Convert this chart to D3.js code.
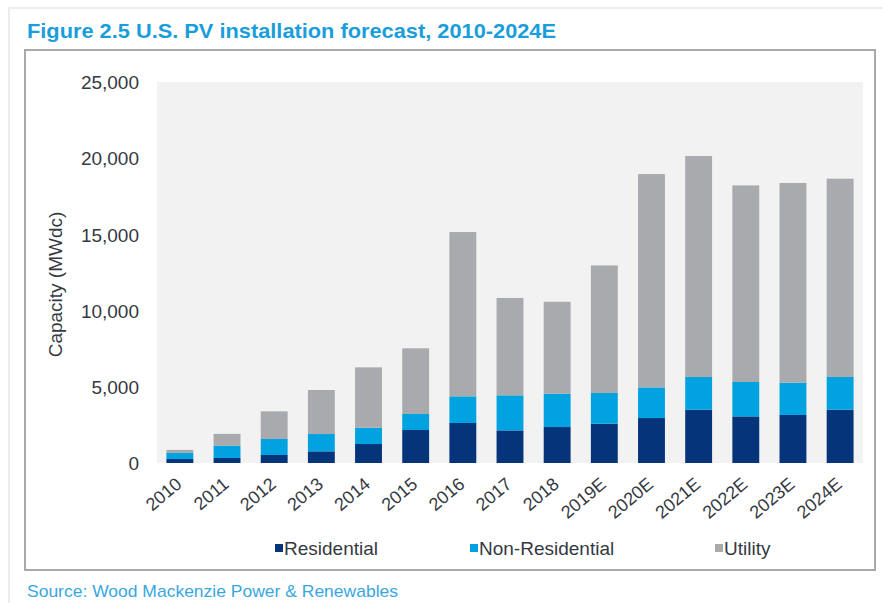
<!DOCTYPE html>
<html><head><meta charset="utf-8">
<script src="https://cdn.jsdelivr.net/npm/d3@7"></script>
<style>html,body{margin:0;padding:0;background:#fff;}svg{display:block;}</style>
</head><body>
<script>
const categories = ["2010","2011","2012","2013","2014","2015","2016","2017","2018","2019E","2020E","2021E","2022E","2023E","2024E"];
const residential    = [260, 330, 525, 765, 1245, 2165, 2625, 2140, 2360, 2580, 2950, 3500, 3060, 3150, 3500];
const nonResidential = [400, 810, 1050, 1135, 1070, 1050, 1750, 2300, 2185, 2015, 2010, 2145, 2255, 2120, 2145];
const utility        = [200, 770, 1815, 2890, 3960, 4310, 10780, 6390, 6035, 8370, 14000, 14500, 12900, 13105, 13010];
const seriesNames = ["Residential","Non-Residential","Utility"];
const seriesColors = ["#06347a","#00a3e0","#a8aaad"];
const yTicks = [0, 5000, 10000, 15000, 20000, 25000];

const W = 883, H = 603;
const svg = d3.select("body").append("svg").attr("width", W).attr("height", H);

// card edge
svg.append("rect").attr("x", 9).attr("y", 8).attr("width", W).attr("height", H)
  .attr("fill", "none").attr("stroke", "#ececec").attr("stroke-width", 2);

// title
svg.append("text").attr("x", 27).attr("y", 38)
  .attr("font-family", "'Liberation Sans Narrow','Liberation Sans',Arial,sans-serif")
  .attr("font-weight", "bold").attr("font-size", 21).attr("fill", "#1a9edb")
  .attr("textLength", 529).attr("lengthAdjust", "spacingAndGlyphs")
  .text("Figure 2.5 U.S. PV installation forecast, 2010-2024E");

// frame
svg.append("rect").attr("x", 25).attr("y", 50).attr("width", 850).attr("height", 520)
  .attr("fill", "#fff").attr("stroke", "#a9a9a9").attr("stroke-width", 2);

const plot = {left: 157, right: 863, top: 82, bottom: 463};
const x = d3.scaleBand().domain(categories).range([plot.left, plot.right]).paddingInner(0.43).paddingOuter(0.2);
const y = d3.scaleLinear().domain([0, 25000]).range([plot.bottom, plot.top]);

svg.append("rect").attr("x", plot.left).attr("y", plot.top)
  .attr("width", plot.right - plot.left).attr("height", plot.bottom - plot.top)
  .attr("fill", "#f2f2f2");

const table = categories.map((c, i) => ({cat: c, "Residential": residential[i], "Non-Residential": nonResidential[i], "Utility": utility[i]}));
const stack = d3.stack().keys(seriesNames)(table);

svg.append("g").selectAll("g").data(stack).join("g")
  .attr("fill", (d, i) => seriesColors[i])
  .selectAll("rect").data(d => d).join("rect")
  .attr("x", d => x(d.data.cat))
  .attr("width", x.bandwidth())
  .attr("y", d => y(d[1]))
  .attr("height", d => y(d[0]) - y(d[1]));

const font = "'Liberation Sans',Arial,sans-serif";
const txtColor = "#353942";

// y axis
const yAxis = svg.append("g").attr("transform", `translate(${plot.left - 18},0)`)
  .call(d3.axisLeft(y).tickValues(yTicks).tickFormat(d3.format(",")).tickSize(0).tickPadding(0));
yAxis.select(".domain").remove();
yAxis.selectAll("text").attr("font-family", font).attr("font-size", 19).attr("fill", txtColor).attr("dy", "0.35em");

svg.append("text").attr("transform", `translate(62,${(plot.top + plot.bottom) / 2 + 12}) rotate(-90)`)
  .attr("text-anchor", "middle").attr("font-family", font).attr("font-size", 19).attr("fill", txtColor)
  .text("Capacity (MWdc)");

// x axis
const xAxis = svg.append("g").attr("transform", `translate(0,${plot.bottom})`)
  .call(d3.axisBottom(x).tickSize(0).tickPadding(0));
xAxis.select(".domain").remove();
xAxis.selectAll("text")
  .attr("font-family", font).attr("font-size", 18).attr("fill", txtColor)
  .attr("text-anchor", "end").attr("dy", 0).attr("y", 0)
  .attr("transform", "translate(3,23) rotate(-40)");

// legend
const legendX = [275, 470, 715];
const lg = svg.append("g").selectAll("g").data(seriesNames).join("g")
  .attr("transform", (d, i) => `translate(${legendX[i]},548)`);
lg.append("rect").attr("x", 0).attr("y", -4).attr("width", 8).attr("height", 8).attr("fill", (d, i) => seriesColors[i]);
lg.append("text").attr("x", 9).attr("y", 0).attr("dy", "0.35em")
  .attr("font-family", font).attr("font-size", 19).attr("fill", txtColor).text(d => d);

// source
svg.append("text").attr("x", 27).attr("y", 597)
  .attr("font-family", font).attr("font-size", 17).attr("fill", "#3aa6df")
  .attr("textLength", 371).attr("lengthAdjust", "spacingAndGlyphs")
  .text("Source: Wood Mackenzie Power & Renewables");
</script>
</body></html>
